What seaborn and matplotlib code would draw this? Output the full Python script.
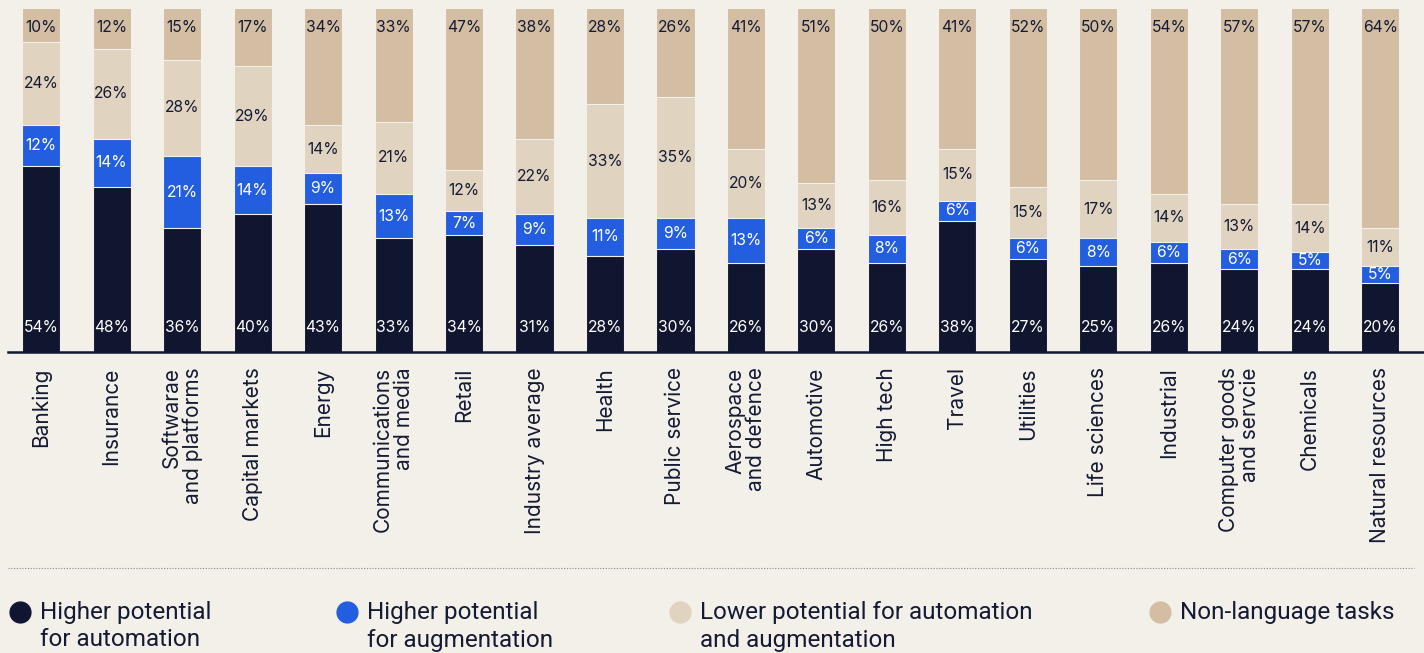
import matplotlib
matplotlib.use("Agg")
import numpy as np
import pandas as pd
import seaborn as sns
import matplotlib.pyplot as plt
from matplotlib.lines import Line2D

industries = ["Banking", "Insurance", "Softwarae\nand platforms", "Capital markets", "Energy",
              "Communications\nand media", "Retail", "Industry average", "Health", "Public service",
              "Aerospace\nand defence", "Automotive", "High tech", "Travel", "Utilities",
              "Life sciences", "Industrial", "Computer goods\nand servcie", "Chemicals",
              "Natural resources"]
automation = [54, 48, 36, 40, 43, 33, 34, 31, 28, 30, 26, 30, 26, 38, 27, 25, 26, 24, 24, 20]
augmentation = [12, 14, 21, 14, 9, 13, 7, 9, 11, 9, 13, 6, 8, 6, 6, 8, 6, 6, 5, 5]
lower = [24, 26, 28, 29, 14, 21, 12, 22, 33, 35, 20, 13, 16, 15, 15, 17, 14, 13, 14, 11]
nonlang = [10, 12, 15, 17, 34, 33, 47, 38, 28, 26, 41, 51, 50, 41, 52, 50, 54, 57, 57, 64]

legend_labels = ["Higher potential\nfor automation", "Higher potential\nfor augmentation",
                 "Lower potential for automation\nand augmentation", "Non-language tasks"]

BG = "#f3efe9"
NAVY = "#10162f"
BLUE = "#245ee0"
LIGHT = "#e0d3c0"
TAN = "#d3bea3"
TEXT = "#141a33"

sns.set_theme(style="white")
plt.rcParams['font.family'] = ['Inter', 'DejaVu Sans']

df = pd.DataFrame({'industry': industries, 'automation': automation,
                   'augmentation': augmentation, 'lower': lower, 'nonlang': nonlang})
df['c1'] = df['automation']
df['c2'] = df['c1'] + df['augmentation']
df['c3'] = df['c2'] + df['lower']
df['c4'] = df['c3'] + df['nonlang']

fig = plt.figure(figsize=(14.24, 6.53), dpi=100, facecolor=BG)
ax = fig.add_axes([8 / 1424, 1 - 352 / 653, 1416 / 1424, 344 / 653])
ax.set_facecolor(BG)

# draw cumulative totals, tallest first
for col, color in [('c4', TAN), ('c3', LIGHT), ('c2', BLUE), ('c1', NAVY)]:
    sns.barplot(data=df, x='industry', y=col, color=color, saturation=1, width=0.54,
                edgecolor=BG, linewidth=0.8, ax=ax)

x = np.arange(len(industries))
for i in x:
    ax.text(i, 7, f"{automation[i]}%", ha='center', va='center', color='white', fontsize=11.3)
    ax.text(i, df['c1'][i] + augmentation[i] / 2, f"{augmentation[i]}%", ha='center',
            va='center', color='white', fontsize=11.3)
    ax.text(i, df['c2'][i] + lower[i] / 2, f"{lower[i]}%", ha='center', va='center',
            color=TEXT, fontsize=11.3)
    ax.text(i, 94.2, f"{nonlang[i]}%", ha='center', va='center', color=TEXT, fontsize=11.3)

ax.set_xlim(-0.47, 19.62)
ax.set_ylim(0, 100)
ax.set_xlabel('')
ax.set_ylabel('')
ax.set_yticks([])
ax.set_xticks(x)
ax.set_xticklabels(industries, rotation=90, ha='center', va='top', multialignment='right',
                   fontsize=15, color=TEXT, linespacing=1.05)
ax.tick_params(axis='x', length=0, pad=11)
for s in ['top', 'left', 'right']:
    ax.spines[s].set_visible(False)
ax.spines['bottom'].set_color(NAVY)
ax.spines['bottom'].set_linewidth(1.8)

# dotted separator
fig.add_artist(Line2D([8 / 1424, 1414 / 1424], [1 - 568 / 653] * 2, color='#8a8a8a',
                      linestyle=(0, (1, 1.5)), linewidth=0.8))

# legend
leg_x = [8, 335, 668, 1148]
for lx, lab, c in zip(leg_x, legend_labels, [NAVY, BLUE, LIGHT, TAN]):
    fig.add_artist(Line2D([(lx + 12) / 1424], [1 - 612 / 653], marker='o', markersize=15,
                          color=c, linestyle='none'))
    fig.text((lx + 32) / 1424, 1 - 601 / 653, lab, ha='left', va='top', fontsize=17.5,
             color=TEXT, family=['Roboto', 'DejaVu Sans'], linespacing=1.25)

fig.savefig('out.png', dpi=100, facecolor=BG)
